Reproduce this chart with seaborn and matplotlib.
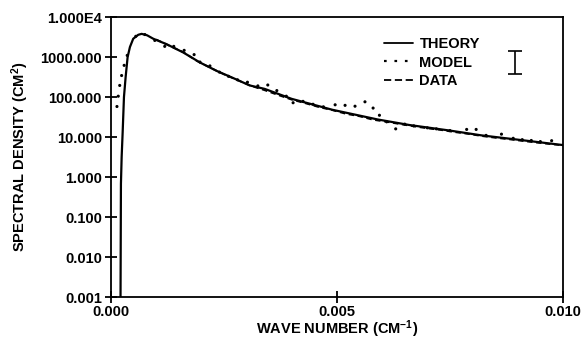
import matplotlib
matplotlib.use("Agg")
import matplotlib.pyplot as plt
import seaborn as sns
import numpy as np
import pandas as pd
from matplotlib.lines import Line2D
from matplotlib.ticker import NullLocator, FixedLocator, FixedFormatter

# ---------------- data ----------------
theory_x = [0.000212, 0.000221, 0.000237, 0.000259, 0.000288, 0.000325, 0.000369,
            0.00042, 0.000493, 0.000604, 0.000679, 0.00080, 0.000936, 0.00123,
            0.00160, 0.00197, 0.00234, 0.00270, 0.00307, 0.00340, 0.00400,
            0.00490, 0.00590, 0.00660, 0.00750, 0.00820, 0.00900, 0.01000]
theory_y = [0.001, 0.67, 3.2, 13, 100, 316, 1000,
            1780, 2870, 3600, 3800, 3500, 2870, 2100,
            1300, 730, 450, 300, 195, 160, 90,
            48, 27.5, 20, 14.5, 11, 8.6, 6.3]

model_x = [0.000133, 0.000162, 0.000194, 0.000236, 0.000292, 0.000360, 0.00055, 0.00075,
           0.00097, 0.00119, 0.00139, 0.00162, 0.00184, 0.00197, 0.00219, 0.00240,
           0.00260, 0.00280, 0.00302, 0.00325, 0.00347, 0.00367, 0.00388, 0.00403,
           0.00425, 0.00447, 0.00470, 0.00496, 0.00518, 0.00540, 0.00562, 0.00580,
           0.00594, 0.00610, 0.00630, 0.00650, 0.00670, 0.00700, 0.00720, 0.00750,
           0.00787, 0.00808, 0.00830, 0.00864, 0.00890, 0.00910, 0.00930, 0.00950,
           0.00975]
model_y = [58, 105, 195, 345, 620, 1100, 3300, 3650,
           2600, 1850, 1850, 1470, 1150, 750, 600, 420,
           330, 270, 235, 190, 200, 145, 105, 72,
           78, 66, 57, 64, 62, 59, 76, 53,
           35, 24, 16, 21, 19, 17, 16, 14.5,
           15.5, 15.5, 11, 11.8, 9.3, 8.6, 8.2, 7.7,
           8.1]

data_x = [0.0010, 0.0013, 0.0016, 0.0019, 0.0022, 0.0025, 0.0028, 0.0031, 0.0034,
          0.0037, 0.0040, 0.0043, 0.0046, 0.0049, 0.0052, 0.0055, 0.0058, 0.0061,
          0.0064, 0.0067, 0.0070, 0.0073, 0.0076, 0.0079, 0.0082, 0.0085, 0.0088,
          0.0091, 0.0094, 0.0097, 0.0100]
data_y = [2750, 1900, 1330, 800, 540, 370, 265, 190, 148,
          112, 86, 70, 56, 47, 38, 33, 27, 24,
          21, 18.5, 16.5, 15, 13.3, 12, 10.6, 9.6, 8.8,
          8.0, 7.3, 6.7, 6.2]

y_ticks = [0.001, 0.01, 0.1, 1, 10, 100, 1000, 10000]
y_tick_labels = ["0.001", "0.010", "0.100", "1.000", "10.000", "100.000", "1000.000", "1.000E4"]
x_ticks = [0.0, 0.005, 0.010]
x_tick_labels = ["0.000", "0.005", "0.010"]
legend_labels = ["THEORY", "MODEL", "DATA"]

# ---------------- style ----------------
sns.set_theme(style="ticks")
plt.rcParams["font.family"] = ["Liberation Sans", "DejaVu Sans"]
plt.rcParams["mathtext.fontset"] = "custom"
plt.rcParams["mathtext.rm"] = "Liberation Sans:bold"
plt.rcParams["mathtext.bf"] = "Liberation Sans:bold"
plt.rcParams["mathtext.it"] = "Liberation Sans:bold"
for key in ["text.color", "axes.labelcolor", "xtick.color", "ytick.color", "axes.edgecolor"]:
    plt.rcParams[key] = "black"

fig = plt.figure(figsize=(5.87, 3.41), dpi=100)
ax = fig.add_axes([0.189, 0.129, 0.770, 0.821])

theory_df = pd.DataFrame({"x": theory_x, "y": theory_y})
model_df = pd.DataFrame({"x": model_x, "y": model_y})
data_df = pd.DataFrame({"x": data_x, "y": data_y})

sns.lineplot(data=data_df, x="x", y="y", ax=ax, color="black", lw=1.3,
             linestyle=(0, (3, 2)), sort=False)
sns.lineplot(data=theory_df, x="x", y="y", ax=ax, color="black", lw=1.6, sort=False)
sns.scatterplot(data=model_df, x="x", y="y", ax=ax, color="black", s=5,
                edgecolor="none", linewidth=0)

ax.set_yscale("log")
ax.set_xlim(0, 0.010)
ax.set_ylim(0.001, 10000)
ax.yaxis.set_major_locator(FixedLocator(y_ticks))
ax.yaxis.set_major_formatter(FixedFormatter(y_tick_labels))
ax.yaxis.set_minor_locator(NullLocator())
ax.xaxis.set_major_locator(FixedLocator(x_ticks))
ax.xaxis.set_major_formatter(FixedFormatter(x_tick_labels))
ax.xaxis.set_minor_locator(NullLocator())

for sp in ax.spines.values():
    sp.set_visible(True)
    sp.set_linewidth(1.3)
    sp.set_color("black")

ax.tick_params(axis="both", direction="inout", length=9, width=1.3, colors="black",
               labelsize=10.5)
ax.tick_params(axis="y", pad=2)
ax.tick_params(axis="x", pad=1)
for lab in ax.get_xticklabels() + ax.get_yticklabels():
    lab.set_fontweight("bold")

ax.set_xlabel(r"WAVE NUMBER (CM$^{-1}$)", fontsize=10.5, fontweight="bold", labelpad=0)
ax.set_ylabel(r"SPECTRAL DENSITY (CM$^{2}$)", fontsize=10.5, fontweight="bold", labelpad=7)

handles = [
    Line2D([], [], color="black", lw=1.3, linestyle="-"),
    Line2D([], [], color="black", lw=1.6, linestyle=(0, (1.2, 3.5))),
    Line2D([], [], color="black", lw=1.3, linestyle=(0, (4, 2))),
]
leg = ax.legend(handles, legend_labels, loc="upper left", bbox_to_anchor=(0.605, 0.928),
                frameon=False, fontsize=10.5, handlelength=1.95, handletextpad=0.45,
                labelspacing=0.3, borderpad=0, borderaxespad=0)
for t in leg.get_texts():
    t.set_fontweight("bold")
    t.set_color("black")

# error-bar symbol
ax.errorbar([0.894], [0.836], yerr=[0.041], transform=ax.transAxes, color="black",
            lw=1.2, capsize=5, capthick=1.2, fmt="none")

ax.set_facecolor("white")
fig.patch.set_facecolor("white")
fig.savefig("out.png", dpi=100)
